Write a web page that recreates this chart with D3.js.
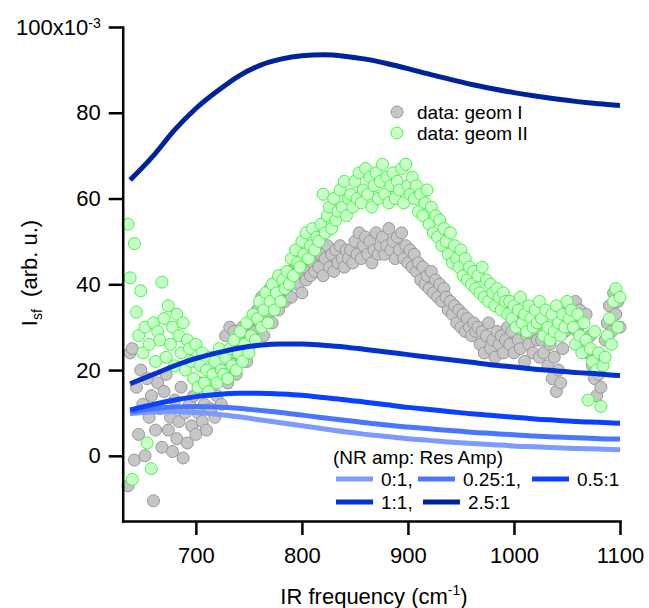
<!DOCTYPE html>
<html>
<head>
<meta charset="utf-8">
<script src="https://cdn.jsdelivr.net/npm/d3@7"></script>
<style>
body { margin: 0; background: #fff; }
text { font-family: "Liberation Sans", Arial, Helvetica, sans-serif; fill: #000; }
</style>
</head>
<body>
<div id="chart"></div>
<script>
// measured points, intensity in units of 1e-3
var irFreq = [
    636, 638, 640, 642, 644, 646, 648, 650, 652, 654, 656, 658, 660, 662, 664,
    666, 668, 670, 672, 674, 676, 678, 680, 682, 684, 686, 688, 690, 692, 694,
    696, 698, 700, 702, 704, 706, 708, 710, 712, 714, 716, 718, 720, 722, 724,
    726, 728, 730, 732, 734, 736, 738, 740, 742, 744, 746, 748, 750, 752, 754,
    756, 758, 760, 762, 764, 766, 768, 770, 772, 774, 776, 778, 780, 782, 784,
    786, 788, 790, 792, 794, 796, 798, 800, 802, 804, 806, 808, 810, 812, 814,
    816, 818, 820, 822, 824, 826, 828, 830, 832, 834, 836, 838, 840, 842, 844,
    846, 848, 850, 852, 854, 856, 858, 860, 862, 864, 866, 868, 870, 872, 874,
    876, 878, 880, 882, 884, 886, 888, 890, 892, 894, 896, 898, 900, 902, 904,
    906, 908, 910, 912, 914, 916, 918, 920, 922, 924, 926, 928, 930, 932, 934,
    936, 938, 940, 942, 944, 946, 948, 950, 952, 954, 956, 958, 960, 962, 964,
    966, 968, 970, 972, 974, 976, 978, 980, 982, 984, 986, 988, 990, 992, 994,
    996, 998, 1000, 1002, 1004, 1006, 1008, 1010, 1012, 1014, 1016, 1018, 1020, 1022, 1024,
    1026, 1028, 1030, 1032, 1034, 1036, 1038, 1040, 1042, 1044, 1046, 1048, 1050, 1052, 1054,
    1056, 1058, 1060, 1062, 1064, 1066, 1068, 1070, 1072, 1074, 1076, 1078, 1080, 1082, 1084,
    1086, 1088, 1090, 1092, 1094, 1096, 1098, 1100
];

var geomI = [
    -7, 24, 25, -1, 16, 5, 20, 12, 0, 18, 9, 14, -10.5, 6, 17,
    11, 2, 15, 19, 6, 9, 1, 13, 4, 8, 16, -0.5, 10, 3, 12,
    7, 14, 5, 10, 17, 8, 12, 6, 15, 11, 19, 9, 14, 18, 12,
    20, 28, 17, 30, 24, 29, 19, 27, 23, 30, 25, 22, 28, 26, 31,
    29, 34, 31, 37, 28, 35, 33, 39, 31, 36, 40, 34, 38, 42, 36,
    39, 43, 37, 41, 45, 40, 43, 38, 44, 41, 46, 42, 45, 43, 47,
    44, 47, 42, 46, 49, 44, 47, 43, 48, 45, 49, 46, 44, 48, 46,
    48, 45, 50, 47, 52, 46, 49, 51, 47, 50, 45, 48, 52, 47, 49,
    51, 47, 49, 53, 48, 50, 46, 51, 48, 52, 46, 49, 45, 48, 44,
    47, 43, 45, 41, 44, 40, 42, 39, 43, 38, 41, 37, 40, 36, 39,
    37, 34, 36, 33, 35, 31, 34, 30, 33, 29, 32, 30, 28, 31, 29,
    30, 26, 29, 24, 28, 31, 25, 27, 23, 29, 26, 28, 24, 27, 30,
    26, 29, 24, 31, 27, 25, 30, 22, 28, 26, 31, 24, 29, 27, 23,
    27, 24, 30, 21, 26, 18, 23, 15, 20, 17, 25, 29, 32, 35, 30,
    33, 36, 29, 34, 31, 27, 33, 24, 28, 21, 18, 14, 19, 16, 23,
    27, 31, 35, 29, 38, 33, 36, 30
];

var geomII = [
    54, 41.5, -5.5, 49.5, 33.5, 28, 38.5, 24, 30, 3, 26, -3, 31, 22, 29,
    27, 40.5, 32, 23, 35, 26, 30, 21, 33, 28, 24, 31, 20, 27, 25,
    22, 18, 26, 16, 21, 24, 17, 20, 15, 23, 19, 22, 17, 25, 20,
    19, 23, 18, 25, 21, 27, 20, 24, 29, 22, 26, 31, 24, 28, 33,
    27, 32, 36, 30, 34, 38, 31, 36, 40, 34, 38, 42, 36, 41, 39,
    43, 40, 46, 42, 48, 45, 44, 50, 47, 52, 46, 49, 53, 48, 51,
    50, 54, 61, 52, 56, 58, 53, 60, 55, 57, 62, 58, 64, 56, 60,
    61, 58, 64, 60, 66, 59, 62, 67, 61, 65, 58, 63, 66, 60, 64,
    68, 61, 65, 59, 63, 66, 60, 64, 62, 67, 59, 68, 63, 61, 65,
    60, 63, 57, 61, 56, 59, 62, 54, 58, 52, 56, 51, 55, 49, 53,
    50, 47, 52, 45, 49, 46, 44, 48, 42, 46, 41, 44, 40, 43, 39,
    42, 38, 44, 37, 41, 36, 40, 38, 35, 39, 37, 34, 38, 36, 33,
    36, 32, 35, 30, 34, 37, 31, 33, 29, 35, 32, 30, 34, 31, 36,
    32, 28, 34, 30, 27, 33, 29, 35, 31, 28, 33, 30, 36, 32, 34,
    30, 26, 33, 28, 24, 31, 27, 13, 25, 22, 29, 20, 24, 11.5, 21,
    23, 28, 32, 26, 36, 39, 30, 37
];

// model curves, NR amp : Res amp
var modelFreq = [638, 660, 680, 700, 720, 740, 760, 780, 800, 820, 840, 860,
    880, 900, 920, 940, 960, 980, 1000, 1020, 1040, 1060, 1080, 1100];
var ratioLabels = ['0:1,', '0.25:1,', '0.5:1', '1:1,', '2.5:1'];
var ratio0 = [9.8, 10.2, 10.3, 10.1, 9.7, 9.1, 8.4, 7.7, 7, 6.3, 5.6, 5,
    4.5, 4, 3.6, 3.2, 2.9, 2.6, 2.3, 2.1, 1.9, 1.7, 1.6, 1.4];
var ratio025 = [10.2, 11, 11.4, 11.5, 11.4, 11.1, 10.6, 10.1, 9.5, 8.9, 8.3, 7.7,
    7.2, 6.7, 6.3, 5.9, 5.5, 5.2, 4.9, 4.6, 4.4, 4.2, 4, 3.9];
var ratio05 = [10.7, 12, 13, 13.8, 14.3, 14.6, 14.6, 14.4, 14.1, 13.6, 13.1, 12.5,
    11.9, 11.3, 10.8, 10.3, 9.8, 9.4, 9, 8.6, 8.3, 8, 7.8, 7.6];
var ratio1 = [16.8, 19, 21, 22.7, 24, 25.1, 25.8, 26.1, 26.1, 25.8, 25.4, 24.8,
    24.2, 23.6, 23, 22.4, 21.8, 21.2, 20.7, 20.2, 19.8, 19.4, 19.1, 18.7];
var ratio25 = [64.3, 70, 76, 81, 85, 88.5, 91, 92.5, 93.3, 93.5, 93.2, 92.5,
    91.5, 90.3, 89, 87.8, 86.6, 85.6, 84.7, 83.9, 83.2, 82.6, 82.1, 81.7];
var ratioColors = ['#7d9bff', '#4a76ff', '#0a40ff', '#0432d0', '#00229a'];

var xTicks = [700, 800, 900, 1000, 1100];
var yTicks = [0, 20, 40, 60, 80, 100];

var width = 649, height = 608;

var svg = d3.select('#chart')
    .append('svg')
    .attr('width', width)
    .attr('height', height);

var x = d3.scaleLinear().domain([631, 1100]).range([122.7, 620]);
var y = d3.scaleLinear().domain([-15.2, 100]).range([521, 27]);

// scatter data
var scatter = [
    {name: 'data: geom I', values: geomI, fill: '#c6c6c6', stroke: '#979797'},
    {name: 'data: geom II', values: geomII, fill: '#c8ffc8', stroke: '#45f545'}
];

scatter.forEach(function (s) {
    svg.append('g').selectAll('circle')
        .data(s.values)
        .enter().append('circle')
        .attr('cx', function (d, i) { return x(irFreq[i]); })
        .attr('cy', function (d) { return y(d); })
        .attr('r', 6)
        .attr('fill', s.fill)
        .attr('stroke', s.stroke)
        .attr('stroke-width', 1);
});

// model lines
var models = [ratio0, ratio025, ratio05, ratio1, ratio25];
var line = d3.line()
    .x(function (d, i) { return x(modelFreq[i]); })
    .y(function (d) { return y(d); })
    .curve(d3.curveMonotoneX);

models.forEach(function (m, k) {
    svg.append('path')
        .attr('d', line(m))
        .attr('fill', 'none')
        .attr('stroke', ratioColors[k])
        .attr('stroke-width', 5);
});

// axes
var xAxis = svg.append('g')
    .attr('transform', 'translate(0,' + y.range()[0] + ')')
    .call(d3.axisBottom(x).tickValues(xTicks).tickFormat(d3.format('d'))
        .tickSize(14).tickSizeOuter(0).tickPadding(12));

var yAxis = svg.append('g')
    .attr('transform', 'translate(' + x.range()[0] + ',0)')
    .call(d3.axisLeft(y).tickValues(yTicks).tickFormat(d3.format('d'))
        .tickSize(14).tickSizeOuter(0).tickPadding(8));

[xAxis, yAxis].forEach(function (a) {
    a.select('.domain').attr('stroke-width', 2.5).attr('stroke-linecap', 'square');
    a.selectAll('.tick line').attr('stroke-width', 2.5);
    a.selectAll('.tick text')
        .style('font-size', '22px')
        .style('font-family', '"Liberation Sans", Arial, sans-serif');
});

// top label gets the exponent
yAxis.selectAll('.tick text')
    .filter(function (d) { return d === 100; })
    .text('100x10')
    .append('tspan')
    .attr('dy', '-0.5em')
    .style('font-size', '14px')
    .text('-3');

// axis titles
var xt = svg.append('text')
    .attr('x', 374)
    .attr('y', 604)
    .attr('text-anchor', 'middle')
    .style('font-size', '22px')
    .text('IR frequency (cm');
xt.append('tspan').attr('dy', -9).style('font-size', '14px').text('-1');
xt.append('tspan').attr('dy', 9).text(')');

var yt = svg.append('text')
    .attr('transform', 'translate(37,273) rotate(-90)')
    .attr('text-anchor', 'middle')
    .style('font-size', '22px')
    .text('I');
yt.append('tspan').attr('dy', 5).style('font-size', '14px').text('sf');
yt.append('tspan').attr('dy', -5).text('\u00a0\u00a0(arb. u.)');

// legend for data
var leg1 = svg.append('g');
scatter.forEach(function (s, i) {
    leg1.append('circle')
        .attr('cx', 397)
        .attr('cy', 112 + i * 21)
        .attr('r', 6)
        .attr('fill', s.fill)
        .attr('stroke', s.stroke);
    leg1.append('text')
        .attr('x', 417)
        .attr('y', 112 + i * 21)
        .attr('dy', '0.35em')
        .style('font-size', '19px')
        .text(s.name);
});

// legend for model lines
var leg2 = svg.append('g');
leg2.append('text')
    .attr('x', 333)
    .attr('y', 464)
    .style('font-size', '19px')
    .text('(NR amp: Res Amp)');

var legPos = [
    {x: 336, y: 479, tx: 381},
    {x: 418, y: 479, tx: 463},
    {x: 532, y: 479, tx: 577},
    {x: 336, y: 502, tx: 381},
    {x: 423, y: 502, tx: 468}
];

ratioLabels.forEach(function (lab, k) {
    var p = legPos[k];
    leg2.append('line')
        .attr('x1', p.x).attr('x2', p.x + 37)
        .attr('y1', p.y).attr('y2', p.y)
        .attr('stroke', ratioColors[k])
        .attr('stroke-width', 5);
    leg2.append('text')
        .attr('x', p.tx)
        .attr('y', p.y)
        .attr('dy', '0.35em')
        .style('font-size', '19px')
        .text(lab);
});
</script>
</body>
</html>
